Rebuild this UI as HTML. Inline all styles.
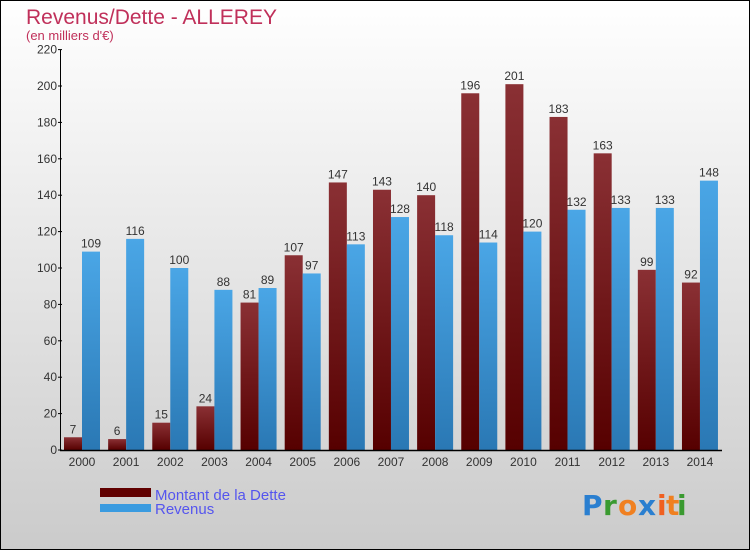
<!DOCTYPE html>
<html><head><meta charset="utf-8"><style>
body{margin:0}
#c{width:750px;height:550px;position:relative;font-family:"Liberation Sans",sans-serif}
</style></head><body>
<div id="c">
<svg id="s" width="750" height="550" xmlns="http://www.w3.org/2000/svg">
<defs>
<linearGradient id="bg" x1="0" y1="0" x2="0" y2="1"><stop offset="0" stop-color="#ffffff"/><stop offset="1" stop-color="#cbcbcb"/></linearGradient>
<linearGradient id="gd" x1="0" y1="0" x2="0" y2="1"><stop offset="0" stop-color="#8a3034"/><stop offset="1" stop-color="#560000"/></linearGradient>
<linearGradient id="gr" x1="0" y1="0" x2="0" y2="1"><stop offset="0" stop-color="#4aa6e6"/><stop offset="1" stop-color="#2a78b4"/></linearGradient>
</defs>
<rect x="0.5" y="0.5" width="749" height="549" fill="url(#bg)" stroke="#000"/>
<text x="26" y="24" font-size="21" fill="#c0305a">Revenus/Dette - ALLEREY</text>
<text x="26" y="40" font-size="13" fill="#c0305a">(en milliers d'€)</text>
<g id="bars"></g>
<g id="axes"></g>
<rect x="100" y="488" width="51" height="9" fill="#600000"/>
<rect x="100" y="504" width="51" height="8" fill="#3a9be0"/>
<text x="155" y="500" font-size="15" fill="#5555ee">Montant de la Dette</text>
<text x="155" y="514" font-size="15" fill="#5555ee">Revenus</text>
<g font-size="28" font-weight="bold" font-family="'DejaVu Sans',sans-serif">
<text x="582" y="515" fill="#2a7fd0">P</text><text x="603" y="515" fill="#3a9a30">r</text><text x="618" y="515" fill="#f08020">o</text><text x="638" y="515" fill="#2a7fd0">x</text><text x="657" y="515" fill="#f06020">i</text><text x="666" y="515" fill="#f08020">t</text><text x="677" y="515" fill="#3a9a30">i</text>
</g>
</svg>
</div>
<script>
const years=["2000","2001","2002","2003","2004","2005","2006","2007","2008","2009","2010","2011","2012","2013","2014"];
const dette=[7,6,15,24,81,107,147,143,140,196,201,183,163,99,92];
const revenus=[109,116,100,88,89,97,113,128,118,114,120,132,133,133,148];
const yTicks=[0,20,40,60,80,100,120,140,160,180,200,220];
const NS="http://www.w3.org/2000/svg";
const y0=450,pxPer=1.82,xc0=82,step=44.14,bw=18;
const Y=v=>y0-v*pxPer, X=i=>xc0+i*step;
function mk(t,a,p){const e=document.createElementNS(NS,t);for(const k in a)e.setAttribute(k,a[k]);p.appendChild(e);return e;}
const bars=document.getElementById('bars'),axes=document.getElementById('axes');
years.forEach((yr,i)=>{
 const d=mk('rect',{x:X(i)-bw,y:Y(dette[i]),width:bw,height:dette[i]*pxPer,fill:'url(#gd)'},bars);
 
 
 const r=mk('rect',{x:X(i),y:Y(revenus[i]),width:bw,height:revenus[i]*pxPer,fill:'url(#gr)'},bars);
 
 
 const t1=mk('text',{x:X(i)-bw/2,y:Y(dette[i])-4,'font-size':12,fill:'#333','text-anchor':'middle'},bars);t1.textContent=dette[i];
 
 
 const t2=mk('text',{x:X(i)+bw/2,y:Y(revenus[i])-4,'font-size':12,fill:'#333','text-anchor':'middle'},bars);t2.textContent=revenus[i];
 
 
 const xl=mk('text',{x:X(i),y:466,'font-size':12,fill:'#333','text-anchor':'middle'},axes);xl.textContent=yr;
 
 
});
yTicks.forEach(v=>{
 const l=mk('line',{x1:58,x2:62,y1:Y(v),y2:Y(v),stroke:'#000'},axes);
 
 
 const t=mk('text',{x:57,y:Y(v)+4,'font-size':12,fill:'#333','text-anchor':'end'},axes);t.textContent=v;
 
 
});
const ya=mk('line',{x1:60.5,x2:60.5,y1:Y(220),y2:451,stroke:'#000'},axes);


const xa=mk('line',{x1:60,x2:722,y1:450.5,y2:450.5,stroke:'#000','stroke-width':1.5},axes);


</script>
</body></html>
